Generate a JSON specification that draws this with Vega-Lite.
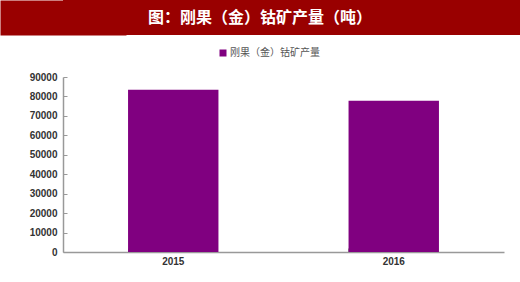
{
  "$schema": "https://vega.github.io/schema/vega-lite/v6.json",
  "padding": 0,
  "spacing": 13,
  "background": "white",
  "config": {"view": {"stroke": null}},
  "resolve": {"legend": {"color": "independent"}},
  "vconcat": [
    {
      "width": 457,
      "height": 35,
      "data": {"values": [{"t": "图：刚果（金）钴矿产量（吨）", "x0": 0, "x1": 1, "xc": 0.431}]},
      "layer": [
        {
          "mark": {"type": "rect", "color": "#990000"},
          "encoding": {
            "x": {"field": "x0", "type": "quantitative", "scale": {"domain": [0, 1], "nice": false}, "axis": null},
            "x2": {"field": "x1"},
            "y": {"datum": 0, "type": "quantitative", "scale": {"domain": [0, 1], "nice": false}, "axis": {"title": null, "labels": false, "ticks": false, "grid": false, "domain": true, "domainColor": "#990000", "domainWidth": 126, "domainCap": "butt"}},
            "y2": {"datum": 1}
          }
        },
        {
          "mark": {"type": "text", "color": "white", "font": "Noto Sans CJK SC", "fontSize": 16, "fontWeight": "bold", "align": "center", "baseline": "middle"},
          "encoding": {
            "x": {"field": "xc", "type": "quantitative"},
            "y": {"datum": 0.5, "type": "quantitative"},
            "text": {"field": "t"}
          }
        }
      ]
    },
    {
      "width": 441,
      "height": 175,
      "data": {"values": [
        {"year": "2015", "series": "刚果（金）钴矿产量", "value": 83500},
        {"year": "2016", "series": "刚果（金）钴矿产量", "value": 77800}
      ]},
      "mark": {"type": "bar"},
      "encoding": {
        "x": {
          "field": "year", "type": "nominal",
          "scale": {"paddingInner": 0.59, "paddingOuter": 0.295},
          "axis": {"title": null, "labelAngle": 0, "bandPosition": 0, "domainColor": "#999999", "domainWidth": 1.5, "tickColor": "#999999", "tickSize": -4, "labelPadding": 8, "labelFont": "Liberation Sans", "labelFontSize": 10, "labelFontWeight": "bold", "labelColor": "#333333"}
        },
        "y": {
          "field": "value", "type": "quantitative",
          "scale": {"domain": [0, 90000], "nice": false},
          "axis": {"title": null, "values": [0, 10000, 20000, 30000, 40000, 50000, 60000, 70000, 80000, 90000], "format": "d", "grid": false, "domainColor": "#999999", "domainWidth": 1.5, "tickColor": "#999999", "tickSize": -4, "labelPadding": 10, "minExtent": 63, "labelFont": "Liberation Sans", "labelFontSize": 10, "labelFontWeight": "bold", "labelColor": "#333333"}
        },
        "color": {
          "field": "series", "type": "nominal",
          "scale": {"range": ["#800080"]},
          "legend": {"title": null, "orient": "none", "legendX": 155, "legendY": -29, "direction": "horizontal", "symbolType": "square", "symbolSize": 49, "symbolStrokeWidth": 0, "labelFont": "Noto Sans CJK SC", "labelFontSize": 10, "labelColor": "#555555", "labelOffset": 2}
        }
      }
    }
  ]
}
